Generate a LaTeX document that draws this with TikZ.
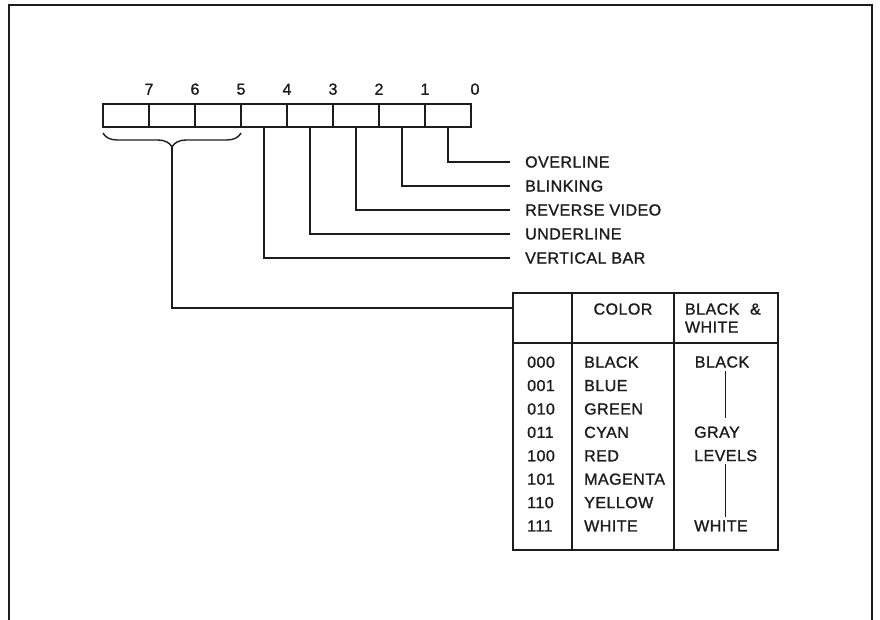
\documentclass[tikz,border=0pt]{standalone}
\usepackage{fontspec}
\setmainfont[LetterSpace=3, FakeBold=1.2]{Liberation Sans}
\usepackage{xcolor}
\definecolor{inkblack}{RGB}{28,28,28}
\usepackage{tikz}
\usetikzlibrary{positioning,calc,decorations.pathreplacing}

\begin{document}
\begin{tikzpicture}[x=1pt, y=-1pt,
    bit/.style={rectangle, draw=inkblack, line width=2.2pt,
                minimum width=46pt, minimum height=23pt,
                inner sep=0pt, outer sep=0pt},
    bitnum/.style={font=\fontsize{16}{18}\selectfont, text=inkblack,
                   inner sep=0pt, above=9pt},
    attr/.style={anchor=west, inner sep=0pt, text=inkblack,
                 font=\fontsize{16}{18}\selectfont},
    lead/.style={draw=inkblack, line width=1.8pt},
    brc/.style={draw=inkblack, line width=1.4pt, decorate,
                decoration={brace, mirror, amplitude=14pt, raise=6pt}},
    cell/.style={rectangle, draw=inkblack, line width=2.2pt,
                 inner sep=0pt, outer sep=0pt, text=inkblack,
                 font=\fontsize{16}{18}\selectfont},
    coltxt/.style={anchor=west, align=left, inner sep=0pt, text=inkblack,
                   font=\fontsize{16}{23.4}\selectfont},
    bwtxt/.style={inner xsep=0pt, inner ysep=3pt, text=inkblack,
                  font=\fontsize{16}{18}\selectfont},
    glvl/.style={draw=inkblack, line width=1pt},
  ]
    \useasboundingbox (0,0) rectangle (880,620);
    \fill[white] (0,0) rectangle (880,620);
    % frame, open at the bottom
    \draw[inkblack, line width=2pt] (9,620) |- (872,5) -- (872,620);

    % attribute byte
    \node[bit] (b7) at (126,115.5) {};
    \node[bit, right=0pt of b7] (b6) {};
    \node[bit, right=0pt of b6] (b5) {};
    \node[bit, right=0pt of b5] (b4) {};
    \node[bit, right=0pt of b4] (b3) {};
    \node[bit, right=0pt of b3] (b2) {};
    \node[bit, right=0pt of b2] (b1) {};
    \node[bit, right=0pt of b1] (b0) {};

    \node[bitnum] at (b7.north east) {7};
    \node[bitnum] at (b6.north east) {6};
    \node[bitnum] at (b5.north east) {5};
    \node[bitnum] at (b4.north east) {4};
    \node[bitnum] at (b3.north east) {3};
    \node[bitnum] at (b2.north east) {2};
    \node[bitnum] at (b1.north east) {1};
    \node[bitnum] at ([xshift=4pt]b0.north east) {0};

    % single-bit attributes
    \node[attr] (ovl) at (525,162) {OVERLINE};
    \node[attr] (blk) at (525,186) {BLINKING};
    \node[attr] (rev) at (525,210) {REVERSE VIDEO};
    \node[attr] (unl) at (525,234) {UNDERLINE};
    \node[attr] (vbar) at (525,258) {VERTICAL BAR};

    \draw[lead] (b0.south) |- ([xshift=-15pt]ovl.west);
    \draw[lead] (b1.south) |- ([xshift=-15pt]blk.west);
    \draw[lead] (b2.south) |- ([xshift=-15pt]rev.west);
    \draw[lead] (b3.south) |- ([xshift=-15pt]unl.west);
    \draw[lead] (b4.south) |- ([xshift=-15pt]vbar.west);

    % bits 7-5: colour field
    \draw[brc] (b7.south west) -- (b5.south east);
    \coordinate (brtip) at ($(b7.south west)!0.5!(b5.south east)+(0,20)$);

    % colour table
    \node[cell, anchor=north west, minimum width=59pt, minimum height=50pt] (h0) at (513,293) {};
    \node[cell, right=0pt of h0, minimum width=102pt, minimum height=50pt, align=center] (hc) {COLOR\\\phantom{W}};
    \node[cell, right=0pt of hc, minimum height=50pt, text width=82pt, inner xsep=11pt, align=left] (hbw) {BLACK \ \&\\WHITE};
    \node[cell, below=0pt of h0, minimum width=59pt, minimum height=207pt] (k0) {};
    \node[cell, below=0pt of hc, minimum width=102pt, minimum height=207pt] (kc) {};
    \node[cell, below=0pt of hbw, minimum width=104pt, minimum height=207pt] (kbw) {};

    \draw[lead] (brtip) |- ([yshift=-15pt]h0.north west);

    \node[coltxt, yshift=2.5pt] (codes) at ([xshift=14pt]k0.west)
      {000\\001\\010\\011\\100\\101\\110\\111};
    \node[coltxt, yshift=2.5pt] (names) at ([xshift=12pt]kc.west)
      {BLACK\\BLUE\\GREEN\\CYAN\\RED\\MAGENTA\\YELLOW\\WHITE};

    \node[bwtxt] (bwblack) at (722,362) {BLACK};
    \node[bwtxt, anchor=west] (bwgray) at (694,432.2) {GRAY};
    \node[bwtxt, anchor=west] (bwlevels) at (694,455.6) {LEVELS};
    \node[bwtxt, anchor=west] (bwwhite) at (694,525.8) {WHITE};

    \draw[glvl] (bwblack.south -| bwlevels) -- ([yshift=5pt]bwgray.north -| bwlevels);
    \draw[glvl] (bwlevels.south) -- (bwwhite.north -| bwlevels);
  \end{tikzpicture}
\end{document}
